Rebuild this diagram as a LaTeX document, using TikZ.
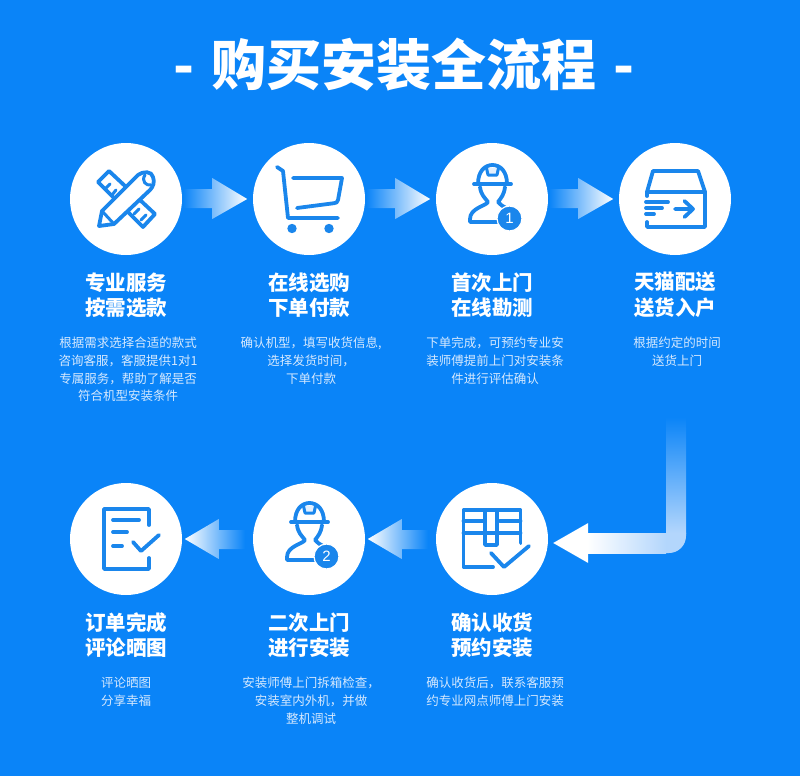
\documentclass[tikz,border=0pt]{standalone}
\usepackage{fontspec}
\setmainfont{Noto Sans CJK SC}
\setsansfont{Liberation Sans}
\usetikzlibrary{calc,positioning}
\definecolor{bgblue}{HTML}{0A84F8}
\definecolor{icblue}{HTML}{1A86EC}
\definecolor{subtxt}{HTML}{D6E9FE}
\definecolor{midfade}{HTML}{E2EDFB}
\definecolor{cornerfade}{HTML}{B3D6FC}
\newcommand{\workericon}[2]{%
  \draw[ic] (-18,-15) -- (19,-15);
  \draw[ic] (-14,-15) .. controls (-14,-28) and (-7,-34) .. (0.5,-34) .. controls (8,-34) and (15,-28) .. (15,-15);
  \draw[ic,line width=3pt,fill=icblue!12] (-5.5,-31) -- (-4,-24) -- (5,-24) -- (6.5,-31);
  \draw[ic] (-12,-12) .. controls (-11,-4) and (-7,-1) .. (-4,3) .. controls (-6,7) and (-22,9) .. (-22,20) -- (-22,23) -- (8,23);
  \draw[ic] (13,-12) .. controls (12,-4) and (9,-1) .. (6,3) .. controls (8,6) and (11,7) .. (14,9);
  \node[badge] (#1) at (17.5,19.5) {#2};
}
\begin{document}
\begin{tikzpicture}[
  x=1pt,y=-1pt,
  disc/.style={circle,fill=white,minimum size=112pt,inner sep=0pt},
  head/.style={align=center,text=white,inner sep=0pt,font=\fontsize{20.5}{25.5}\selectfont\bfseries},
  txt/.style={align=center,text=subtxt,inner sep=0pt,font=\fontsize{12.5}{17.7}\selectfont},
  badge/.style={circle,fill=icblue,draw=white,line width=1.2pt,minimum size=25pt,inner sep=0pt,text=white,font=\sffamily\fontsize{15}{15}\selectfont},
  ic/.style={draw=icblue,line width=3.8pt,line join=round,line cap=round},
  fat/.style={left color=bgblue,middle color=midfade,right color=white},
  fatback/.style={left color=white,middle color=midfade,right color=bgblue},
]
\useasboundingbox (0,0) rectangle (800,776);
\fill[bgblue] (0,0) rectangle (800,776);
\node[text=white,inner sep=0pt,font=\fontsize{55}{60}\selectfont\bfseries] (TITLE) at (404,65) {-\hspace{4pt} 购买安装全流程 \hspace{4pt}-};

% ---- step discs ----
\node[disc] (SEL) at (126,199) {};
\node[disc] (CART) at (309,199) {};
\node[disc] (VIS1) at (492,199) {};
\node[disc] (SHIP) at (675,199) {};
\node[disc] (DONE) at (126,539) {};
\node[disc] (VIS2) at (309,539) {};
\node[disc] (RECV) at (492,539) {};

% ---- headings ----
\node[head,below=17pt of SEL] (H1) {专业服务\\按需选款};
\node[head,below=17pt of CART] (H2) {在线选购\\下单付款};
\node[head,below=17pt of VIS1] (H3) {首次上门\\在线勘测};
\node[head,below=17pt of SHIP] (H4) {天猫配送\\送货入户};
\node[head,below=17pt of DONE] (H5) {订单完成\\评论晒图};
\node[head,below=17pt of VIS2] (H6) {二次上门\\进行安装};
\node[head,below=17pt of RECV] (H7) {确认收货\\预约安装};

% ---- small text ----
\node[txt,below=19pt of H1,xshift=2pt] (T1) {根据需求选择合适的款式\\咨询客服，客服提供1对1\\专属服务，帮助了解是否\\符合机型安装条件};
\node[txt,below=19pt of H2,xshift=2pt] (T2) {确认机型，填写收货信息,\\选择发货时间，\\下单付款};
\node[txt,below=19pt of H3,xshift=3pt] (T3) {下单完成，可预约专业安\\装师傅提前上门对安装条\\件进行评估确认};
\node[txt,below=19pt of H4,xshift=2pt] (T4) {根据约定的时间\\送货上门};
\node[txt,below=19pt of H5] (T5) {评论晒图\\分享幸福};
\node[txt,below=19pt of H6,xshift=2pt] (T6) {安装师傅上门拆箱检查，\\安装室内外机，并做\\整机调试};
\node[txt,below=19pt of H7,xshift=3pt] (T7) {确认收货后，联系客服预\\约专业网点师傅上门安装};

% ---- fat arrows ----
\foreach \a in {SEL,CART,VIS1}
  \path[fat] ($(\a.east)+(1,-10)$) -- ($(\a.east)+(30,-10)$) -- ($(\a.east)+(30,-21)$) -- ($(\a.east)+(65,0)$)
    -- ($(\a.east)+(30,20)$) -- ($(\a.east)+(30,9)$) -- ($(\a.east)+(1,9)$) -- cycle;
\foreach \a in {VIS2,RECV}
  \path[fatback] ($(\a.west)+(-8,-9)$) -- ($(\a.west)+(-34,-9)$) -- ($(\a.west)+(-34,-20)$) -- ($(\a.west)+(-68,0)$)
    -- ($(\a.west)+(-34,20)$) -- ($(\a.west)+(-34,10)$) -- ($(\a.west)+(-8,10)$) -- cycle;

% ---- long arrow, ship to receive ----
\coordinate (TIP) at ($(RECV.east)+(5,4)$);
\coordinate (BEND) at (676,543);
\path[top color=bgblue,bottom color=cornerfade] ($(BEND)+(-10,-126)$) rectangle ($(BEND)+(10,-10)$);
\fill[cornerfade] ($(BEND)+(-10,-10.2)$) -- ($(BEND)+(10,-10.2)$) -- ($(BEND)+(10,-7)$) arc[start angle=0,end angle=-90,radius=17pt] -- ($(BEND)+(-10,10)$) -- cycle;
\path[left color=white,right color=cornerfade] ($(TIP)+(34,-10)$) rectangle ($(BEND)+(-9.8,10)$);
\fill[white] (TIP) -- ($(TIP)+(35,-20)$) -- ($(TIP)+(35,20)$) -- cycle;

% ---- icons ----
\begin{scope}[shift={(SEL.center)}]
  \draw[ic] (-28,-17) -- (-17,-28) -- (29,15) -- (17,28) -- cycle;
  \draw[ic,line width=3pt] (-21,-10) -- (-16,-15) (-14,-4) -- (-10,-9) (8,15) -- (13,10) (15,21) -- (20,16);
  \draw[ic,fill=white] (-27,27) -- (-24,12) -- (12,-24) .. controls (17,-28) and (26,-28) .. (27,-22) .. controls (29,-17) and (27,-12) .. (24,-9) -- (-12,25) -- cycle;
  \draw[ic,line width=3pt] (-24,12) -- (-12,25) (19,-24) .. controls (15,-18) and (20,-13) .. (25,-14);
\end{scope}
\begin{scope}[shift={(CART.center)}]
  \draw[ic] (-32,-32) -- (-26,-28) -- (-21,19) -- (29,19);
  \draw[ic] (-16,-21) -- (33,-21) -- (29,1) .. controls (28.5,3.5) and (27,4) .. (25,4.2) -- (-12,9);
  \fill[icblue] (-17,29.5) circle[radius=4.7pt] (20,29.5) circle[radius=4.7pt];
\end{scope}
\begin{scope}[shift={(VIS1.center)}]
  \workericon{B1}{1}
\end{scope}
\begin{scope}[shift={(SHIP.center)}]
  \draw[ic] (-28,-7) -- (-22,-28) -- (23,-28) -- (30,-7) -- cycle;
  \draw[ic] (30,-7) -- (30,28) -- (-28,28) -- (-28,23);
  \draw[ic] (-28,-7) -- (-28,-3);
  \draw[ic] (-29,3) -- (-7,3) (-29,9) -- (-13,9) (-29,15) -- (-21,15);
  \draw[ic] (0,10) -- (18,10) (9.5,2) -- (18,10) -- (9.5,18);
\end{scope}
\begin{scope}[shift={(DONE.center)}]
  \draw[ic] (23,-14) -- (23,-30) -- (-22,-30) -- (-22,30) -- (23,30) -- (23,19);
  \draw[ic] (-13,-19) -- (13,-19) (-13,-7) -- (1,-7) (-13,7) -- (-4,7);
  \draw[ic] (7,3) -- (15,12) -- (33,-4);
\end{scope}
\begin{scope}[shift={(VIS2.center)}]
  \begin{scope}[yshift=2pt]
    \workericon{B2}{2}
  \end{scope}
\end{scope}
\begin{scope}[shift={(RECV.center)}]
  \draw[ic] (28.5,4) -- (28.5,-29) -- (-28.5,-29) -- (-28.5,28) -- (1,28);
  \draw[ic] (-28.5,-18) -- (-8,-18) (8,-18) -- (28.5,-18) (-28.5,-6) -- (28.5,-6);
  \draw[ic] (-7,-29) -- (-7,6) -- (5,6) -- (5,-29);
  \draw[ic] (-1,14) -- (12,28) -- (37,7);
\end{scope}
\end{tikzpicture}
\end{document}
